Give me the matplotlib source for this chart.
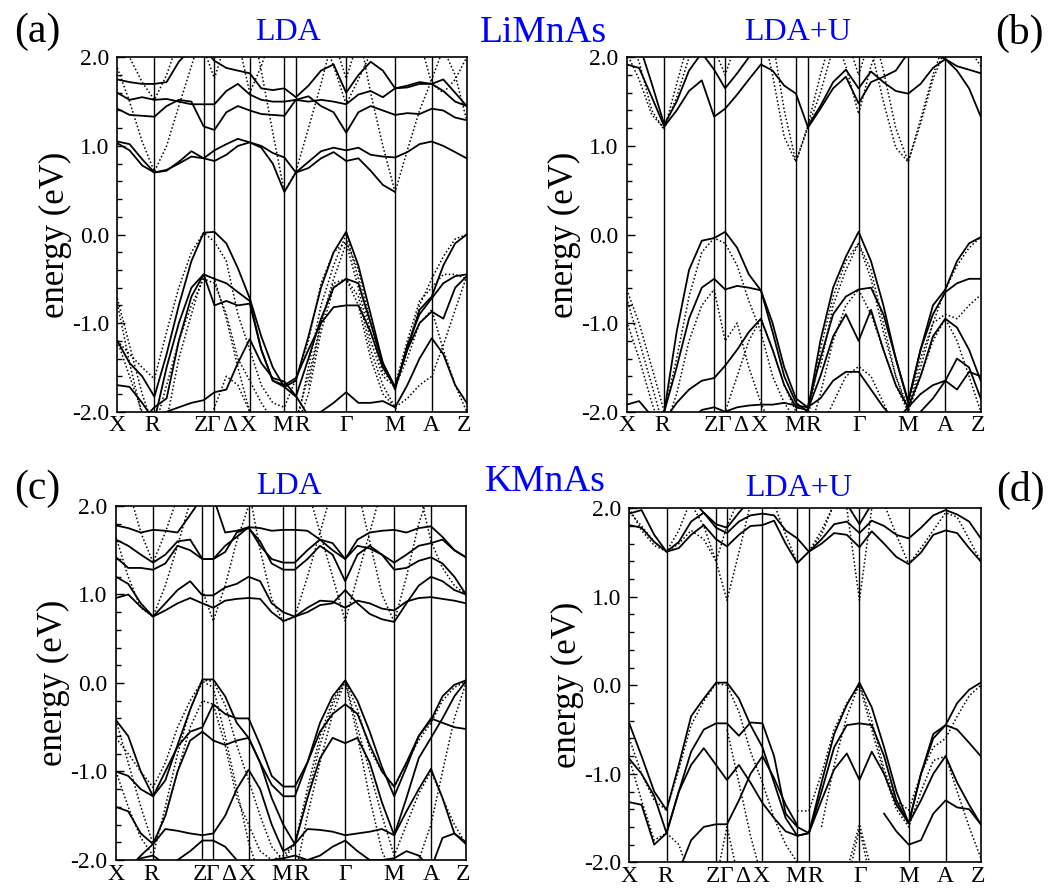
import numpy as np
import matplotlib
matplotlib.use("Agg")
import matplotlib.pyplot as plt

plt.rcParams['font.family'] = ['Liberation Serif', 'DejaVu Serif']

# k-path node positions (fraction of path) and labels
K = [0.000, 0.035, 0.071, 0.106, 0.141, 0.176, 0.212, 0.247, 0.278, 0.312,
     0.345, 0.379, 0.412, 0.445, 0.478, 0.511, 0.547, 0.583, 0.619, 0.655,
     0.690, 0.725, 0.760, 0.795, 0.830, 0.865, 0.900, 0.933, 0.967, 1.000]
SYM_K = [0.0, 0.106, 0.247, 0.278, 0.379, 0.478, 0.511, 0.655, 0.795, 0.900, 1.0]
LABEL_K = [0.0, 0.101, 0.239, 0.275, 0.323, 0.375, 0.475, 0.528, 0.656, 0.795, 0.9, 0.992]
LABELS = ['X', 'R', 'Z', 'Γ', 'Δ', 'X', 'M', 'R', 'Γ', 'M', 'A', 'Z']
N = None
# node order: X xr xr R | rz rz rz Z | G gx gx X | xm xm M R | rg rg rg G | gm gm gm M | ma ma A | az az Z

# ---------------- (a) LiMnAs, LDA ----------------
A_S1 = [1.05, 1.02, 0.85, 0.70, 0.72, 0.82, 0.94, 0.86, 0.83, 0.90, 1.00, 1.04, 0.98, 0.80, 0.48, 0.70, 0.75, 0.86, 0.93, 0.83, 0.86, 0.72, 0.56, 0.48, N, N, N, N, N, N]
A_S2 = [1.03, 0.95, 0.78, 0.70, 0.73, 0.80, 0.88, 0.86, 0.95, 1.02, 1.08, 1.04, 1.00, 0.92, 0.87, 0.70, 0.82, 0.94, 0.98, 0.95, 0.98, 0.90, 0.88, 0.87, 0.93, 1.02, 1.05, 1.00, 0.93, 0.86]
A_S3 = [1.42, 1.35, 1.34, 1.33, 1.45, 1.52, 1.50, 1.22, 1.18, 1.38, 1.45, 1.40, 1.36, 1.35, 1.34, 1.52, 1.56, 1.45, 1.38, 1.15, 1.38, 1.45, 1.40, 1.35, 1.37, 1.36, 1.42, 1.40, 1.32, 1.29]
A_S4 = [1.60, 1.52, 1.55, 1.52, 1.53, 1.50, 1.47, 1.47, 1.47, 1.62, 1.70, 1.58, 1.52, 1.50, 1.50, 1.52, 1.50, 1.52, 1.50, 1.47, 1.58, 1.62, 1.55, 1.65, 1.66, 1.70, 1.70, 1.62, 1.50, 1.45]
A_S5 = [1.75, 1.72, 1.70, 1.70, 1.72, 1.95, 2.10, 2.10, 1.96, 1.88, 1.85, 1.82, 1.65, 1.63, 1.65, 1.55, 1.68, 1.85, 1.92, 1.60, 1.80, 1.95, 1.85, 1.65, 1.68, 1.72, 1.70, 1.75, 1.60, 1.45]
A_V1 = [-1.20, -1.45, -1.60, -1.83, -1.35, -0.80, -0.30, 0.02, 0.03, -0.10, -0.38, -0.72, -1.15, -1.50, -1.72, -1.65, -1.15, -0.60, -0.20, 0.03, -0.35, -0.90, -1.45, -1.72, -1.30, -0.85, -0.70, -0.35, -0.10, 0.00]
A_V2 = [-1.70, -1.72, -1.90, -2.10, -1.50, -1.00, -0.60, -0.45, -0.50, -0.55, -0.65, -0.75, -1.30, -1.65, -1.72, -1.83, -1.40, -0.95, -0.60, -0.50, -0.55, -1.00, -1.45, -1.75, -1.25, -0.90, -0.72, -0.55, -0.47, -0.45]
A_V3 = [N, N, -2.10, -1.95, -1.85, -1.20, -0.70, -0.45, -0.80, -0.75, -0.80, -0.78, -1.30, -1.65, -1.70, -1.62, -1.30, -1.00, -0.82, -0.80, -0.80, -1.10, -1.50, -1.72, -1.30, -1.00, -0.87, -0.95, -0.60, -0.47]
A_V4 = [-2.20, -2.15, -2.10, -2.05, -2.00, -1.95, -1.90, -1.87, -1.78, -1.75, -1.45, -1.18, -1.45, -1.62, -1.66, -1.82, -2.05, -2.00, -1.90, -1.78, -1.90, -1.90, -1.88, -1.95, -1.70, -1.40, -1.17, -1.35, -1.70, -1.90]
A_D1 = [1.88, 1.50, 1.05, 0.71, 1.00, 1.45, 1.90, 2.35, N, N, N, 2.50, 1.85, 1.15, 0.48, 0.71, 1.20, 1.70, 2.25, N, 2.30, 1.60, 1.00, 0.48, 0.95, 1.40, 1.75, 2.10, 1.80, 1.29]
A_D2 = [N, N, N, N, N, N, 2.40, 2.10, 1.76, 2.20, N, N, N, N, N, N, N, N, 2.20, 1.76, 2.20, N, N, N, N, N, N, N, N, N]
A_D3 = [2.30, 2.00, 1.72, 1.52, 1.80, 2.20, N, N, N, N, 2.20, 1.60, 1.90, 2.30, N, N, N, 2.30, 1.90, 1.47, 1.75, 2.05, N, N, N, 2.20, 1.70, 1.60, 1.75, 2.00]
A_W1 = [-1.20, -1.35, -1.50, -1.63, -1.10, -0.60, -0.20, 0.02, -0.08, -0.30, -0.90, -1.30, -1.70, -1.90, -1.95, -1.63, -1.20, -0.55, -0.20, -0.08, -0.40, -1.00, -1.50, -1.72, -1.30, -0.80, -0.50, -0.25, -0.05, 0.00]
A_W2 = [-0.72, -1.25, -1.80, -2.20, -1.70, -1.20, -0.80, -0.50, -0.55, -0.90, -1.40, -1.65, -1.90, -2.10, -2.20, -2.20, -1.50, -0.80, -0.35, 0.00, -0.50, -1.10, -1.55, -1.70, -1.20, -0.75, -0.60, -0.45, -0.45, -0.50]
A_W3 = [-1.20, -1.60, -2.00, -2.30, -2.10, -1.40, -0.90, -0.45, -0.50, -0.95, -1.50, -2.00, -2.20, -2.30, N, N, -1.70, -1.00, -0.50, -0.10, -0.60, -1.20, -1.60, -1.72, -1.40, -1.00, -0.85, -1.30, -1.70, -2.00]
A_W4 = [-0.78, -1.45, -2.05, -2.30, N, N, N, -2.30, -1.95, -1.60, -1.70, -2.00, -2.20, N, N, -2.20, -1.80, -1.10, -0.60, -0.50, -0.70, -1.30, -1.70, -1.95, -1.85, -1.70, -1.60, -1.25, -0.85, -0.47]
A_W5 = [N, N, N, N, N, N, N, N, N, N, N, N, N, N, -2.30, -2.10, -1.60, -1.00, -0.55, -0.50, -0.80, -1.40, -1.80, -1.95, -2.20, N, N, N, N, N]

# ---------------- (b) LiMnAs, LDA+U ----------------
B_S1 = [1.92, 1.88, 1.55, 1.22, 1.40, 1.62, 1.74, 1.33, 1.42, 1.58, 1.75, 1.92, 1.85, 1.68, 1.59, 1.22, 1.45, 1.72, 1.86, 1.65, 1.84, 1.72, 1.62, 1.59, 1.70, 1.88, 1.98, 1.85, 1.65, 1.33]
B_S2 = [2.30, 2.15, 1.70, 1.24, 1.50, 1.85, 2.05, 1.86, 1.65, 1.82, 2.00, 2.20, N, N, N, 1.20, 1.42, 1.65, 1.78, 1.48, 1.72, 1.78, 1.85, 2.05, 2.10, 2.05, 1.98, 1.90, 1.86, 1.82]
B_V1 = [N, N, N, -2.00, -1.10, -0.40, -0.07, -0.04, 0.03, -0.15, -0.45, -0.63, -1.10, -1.60, -1.90, -2.00, -1.20, -0.60, -0.25, 0.03, -0.30, -0.80, -1.40, -1.88, -1.30, -0.80, -0.62, -0.30, -0.10, -0.03]
B_V2 = [N, -2.20, -2.10, -2.00, -1.50, -0.95, -0.60, -0.50, -0.62, -0.58, -0.60, -0.63, -1.00, -1.50, -1.85, -1.95, -1.40, -0.90, -0.70, -0.62, -0.60, -0.90, -1.40, -1.90, -1.30, -0.90, -0.65, -0.55, -0.50, -0.50]
B_V3 = [N, N, N, -2.10, -1.90, -1.75, -1.65, -1.62, -1.48, -1.30, -1.10, -0.95, -1.30, -1.70, -1.95, -1.98, -1.60, -1.15, -0.90, -1.20, -0.85, -1.30, -1.70, -1.95, -1.80, -1.70, -1.65, -1.75, -1.55, -1.60]
B_V4 = [-1.92, -1.88, -2.05, N, N, -2.10, -1.98, -1.95, -2.00, -1.95, -1.93, -1.92, -1.92, -1.90, -1.93, -1.95, -1.85, -1.65, -1.55, -1.55, -1.75, -1.95, -2.10, N, -2.00, -1.85, -1.65, -1.40, -1.50, -1.85]
B_V5 = [N, N, N, N, N, N, N, N, N, N, N, N, N, N, N, N, N, N, N, N, N, N, -2.10, -1.95, -1.60, -1.15, -0.95, -1.05, -1.30, -1.65]
B_D1 = [2.05, 1.75, 1.35, 1.20, 1.55, 2.00, 2.30, N, N, N, N, 2.40, 1.80, 1.10, 0.82, 1.20, 1.60, 2.10, 2.30, N, 2.40, 1.85, 1.20, 0.82, 1.30, 1.80, 2.20, N, N, N]
B_D2 = [2.30, 1.95, 1.40, 1.18, 1.70, 2.20, N, N, N, N, N, N, 2.20, 1.40, 0.82, 1.22, 1.80, 2.30, N, N, 2.10, 1.50, 0.98, 0.82, 1.25, 1.75, 2.10, 2.20, 2.10, 1.90]
B_D3 = [N, N, N, N, N, N, 2.30, 2.10, 1.80, 2.20, N, N, N, N, N, N, N, 2.30, 1.90, 1.36, 1.90, 2.30, N, N, N, N, N, N, N, N]
B_D4 = [N, N, N, N, N, N, N, N, N, N, N, N, N, N, N, N, N, N, 2.25, 1.80, 2.25, N, N, N, N, N, N, N, N, N]
B_W1 = [-0.62, -1.00, -1.50, -2.00, -1.40, -0.70, -0.20, -0.04, -0.10, -0.35, -0.75, -1.10, -1.60, -1.90, -2.10, -2.10, -1.30, -0.70, -0.30, -0.10, -0.40, -1.00, -1.60, -2.00, -1.50, -1.00, -0.62, -0.35, -0.15, -0.03]
B_W2 = [-0.72, -1.20, -1.70, -2.20, -1.80, -1.20, -0.80, -0.62, -1.20, -1.00, -1.50, -1.90, -2.20, N, N, N, -1.50, -0.80, -0.40, -0.10, -0.50, -1.10, -1.60, -1.95, -1.40, -1.00, -0.90, -0.95, -0.80, -0.68]
B_W3 = [-0.98, -1.40, -1.90, -2.30, N, N, N, -2.30, -2.00, -1.60, -1.20, -0.95, -1.30, -1.70, -2.00, -2.30, -1.80, -1.20, -0.80, -0.62, -0.90, -1.30, -1.70, -2.00, -1.60, -1.20, -0.95, -1.20, -1.60, -2.00]
B_W4 = [N, N, N, N, N, N, N, N, N, N, N, N, N, N, N, -2.30, -2.20, -1.90, -1.60, -1.49, -1.60, -1.90, -2.20, N, N, N, N, N, N, N]

# ---------------- (c) KMnAs, LDA ----------------
C_S1 = [0.96, 1.00, 0.86, 0.75, 0.82, 0.90, 0.96, 0.90, 0.85, 0.93, 0.95, 0.96, 0.95, 0.80, 0.70, 0.75, 0.85, 0.93, 0.92, 0.85, 0.93, 0.90, 0.84, 0.82, 0.92, 0.96, 0.97, 0.95, 0.93, 0.90]
C_S2 = [1.20, 1.12, 0.90, 0.75, 0.90, 1.05, 1.15, 0.99, 0.99, 1.08, 1.12, 1.20, 1.15, 0.90, 0.80, 0.75, 0.80, 0.88, 0.90, 1.05, 0.90, 0.78, 0.72, 0.69, 0.90, 1.10, 1.20, 1.15, 1.05, 1.00]
C_S3 = [1.42, 1.30, 1.30, 1.28, 1.35, 1.55, 1.50, 1.40, 1.40, 1.48, 1.70, 1.75, 1.60, 1.35, 1.28, 1.28, 1.40, 1.55, 1.45, 1.15, 1.45, 1.55, 1.45, 1.28, 1.30, 1.38, 1.42, 1.35, 1.20, 1.00]
C_S4 = [1.62, 1.55, 1.45, 1.36, 1.45, 1.60, 1.62, 1.40, 1.40, 1.55, 1.65, 1.76, 1.55, 1.40, 1.36, 1.36, 1.50, 1.62, 1.50, 1.40, 1.55, 1.52, 1.45, 1.36, 1.45, 1.55, 1.58, 1.62, 1.50, 1.42]
C_S5 = [1.78, 1.75, 1.70, 1.73, 1.72, 1.70, 1.90, 2.10, 2.10, 1.70, 1.72, 1.76, 1.75, 1.72, 1.73, 1.73, 1.72, 1.62, 1.58, 1.40, 1.62, 1.70, 1.72, 1.73, 1.70, 1.75, 1.77, 1.65, 1.50, 1.42]
C_V1 = [-0.42, -0.60, -1.00, -1.28, -1.10, -0.70, -0.30, 0.04, 0.04, -0.15, -0.45, -0.62, -0.90, -1.15, -1.28, -1.28, -0.90, -0.45, -0.15, 0.03, -0.20, -0.55, -0.95, -1.28, -0.95, -0.60, -0.42, -0.15, -0.02, 0.03]
C_V2 = [-1.00, -1.05, -1.20, -1.28, -1.00, -0.72, -0.55, -0.50, -0.24, -0.35, -0.40, -0.40, -0.70, -1.05, -1.17, -1.17, -0.90, -0.55, -0.35, -0.24, -0.35, -0.70, -1.00, -1.17, -0.90, -0.60, -0.40, -0.45, -0.50, -0.52]
C_V3 = [-1.40, -1.45, -1.70, -1.82, -1.65, -1.67, -1.70, -1.72, -1.70, -1.50, -1.20, -0.98, -1.20, -1.60, -1.90, -1.82, -1.65, -1.66, -1.68, -1.72, -1.70, -1.68, -1.65, -1.72, -1.45, -1.20, -0.97, -1.30, -1.70, -1.80]
C_V4 = [N, -2.10, -1.95, -1.82, -1.50, -1.00, -0.65, -0.55, -0.65, -0.70, -0.65, -0.62, -0.90, -1.30, -1.60, -1.82, -1.30, -0.85, -0.62, -0.68, -0.62, -0.90, -1.35, -1.72, -1.30, -0.85, -0.62, -0.40, -0.15, 0.02]
C_V5 = [N, -2.10, -1.98, -1.95, -2.05, -2.00, -1.90, -1.78, -1.78, -1.85, -2.00, -2.20, -2.10, -2.00, -1.98, -1.95, -2.00, -1.95, -1.85, -1.78, -1.90, -2.00, -2.00, -1.98, -1.90, -1.95, -2.10, -1.75, -1.70, -1.82]
C_D1 = [1.65, 1.20, 0.85, 0.75, 1.10, 1.55, 2.05, N, N, N, N, 2.20, 1.50, 0.95, 0.69, 0.75, 1.20, 1.70, 2.20, N, 2.20, 1.60, 1.00, 0.69, 1.20, 1.80, 2.20, N, N, N]
C_D2 = [N, 2.20, 1.70, 1.36, 1.70, 2.10, N, 1.05, 0.70, 1.10, 1.60, 2.00, 2.30, N, N, N, 2.20, 1.70, 1.20, 0.70, 1.20, 1.70, 2.20, N, N, 2.20, 1.60, 1.30, 1.10, 1.00]
C_W1 = [-0.62, -0.80, -1.00, -1.18, -0.90, -0.50, -0.20, 0.03, 0.02, -0.25, -0.70, -1.10, -1.50, -1.85, -2.00, -1.82, -1.20, -0.60, -0.20, 0.03, -0.30, -0.75, -1.00, -1.18, -0.90, -0.65, -0.45, -0.20, -0.05, 0.02]
C_W2 = [-0.42, -0.90, -1.40, -1.82, -1.50, -1.00, -0.50, -0.20, -0.24, -0.70, -1.30, -1.60, -1.90, -2.00, -1.95, -1.82, -1.30, -0.70, -0.25, 0.03, -0.50, -1.00, -1.50, -1.95, -1.60, -1.25, -1.00, -1.30, -1.60, -1.82]
C_W3 = [-1.00, -1.40, -1.75, -1.95, -1.40, -0.80, -0.30, 0.02, -0.05, -0.60, -1.20, -1.80, -2.20, N, N, -2.20, -1.50, -0.90, -0.35, 0.02, -0.60, -1.30, -1.90, -2.20, N, -2.00, -1.60, -1.00, -0.40, 0.00]

# ---------------- (d) KMnAs, LDA+U ----------------
D_S1 = [1.81, 1.78, 1.62, 1.51, 1.55, 1.70, 1.81, 1.65, 1.57, 1.70, 1.80, 1.81, 1.86, 1.60, 1.38, 1.51, 1.60, 1.72, 1.70, 1.56, 1.74, 1.60, 1.45, 1.37, 1.50, 1.70, 1.75, 1.72, 1.55, 1.40]
D_S2 = [1.94, 1.98, 1.70, 1.51, 1.62, 1.85, 1.95, 1.78, 1.72, 1.85, 1.92, 1.94, 1.92, 1.75, 1.66, 1.51, 1.65, 1.82, 1.85, 1.72, 1.86, 1.80, 1.70, 1.66, 1.78, 1.92, 1.98, 1.93, 1.85, 1.66]
D_S3 = [N, N, N, N, N, 2.10, 1.95, 1.82, 1.78, 1.95, 2.10, N, N, N, N, N, N, N, 2.05, 1.82, 2.05, N, N, N, N, N, N, N, N, N]
D_V1 = [-0.43, -0.80, -1.20, -1.41, -0.90, -0.35, -0.15, 0.03, 0.03, -0.15, -0.45, -0.70, -1.10, -1.50, -1.70, -1.67, -1.10, -0.55, -0.22, 0.03, -0.25, -0.70, -1.20, -1.56, -1.00, -0.55, -0.45, -0.20, -0.05, 0.03]
D_V2 = [-0.83, -1.00, -1.25, -1.67, -1.20, -0.90, -0.71, -0.90, -1.07, -0.90, -1.10, -1.33, -1.50, -1.65, -1.70, -1.67, -1.30, -0.95, -0.77, -1.07, -0.75, -1.00, -1.35, -1.56, -1.30, -1.00, -0.80, -1.10, -1.35, -1.57]
D_V3 = [-1.32, -1.35, -1.80, -1.67, -1.20, -0.75, -0.50, -0.43, -0.43, -0.57, -0.42, -0.43, -0.80, -1.45, -1.60, -1.67, -1.20, -0.70, -0.45, -0.43, -0.45, -0.80, -1.30, -1.56, -1.00, -0.60, -0.45, -0.50, -0.65, -0.80]
D_V4 = [N, N, N, N, -2.10, -1.75, -1.60, -1.57, -1.57, -1.30, -1.00, -0.80, -1.05, -1.35, -1.58, N, N, N, N, N, N, -1.45, -1.65, -1.80, -1.75, -1.45, -1.30, -1.38, -1.40, -1.57]
D_D1 = [2.00, 1.75, 1.58, 1.51, 1.75, 2.10, N, N, N, N, N, N, N, N, N, 1.51, 1.70, 2.05, N, N, N, N, N, N, N, N, N, N, N, N]
D_D2 = [N, N, N, N, N, 2.05, 1.80, 1.40, 0.96, 1.50, 2.05, N, N, N, N, N, N, N, 2.00, 0.96, 2.00, N, N, N, N, N, N, N, N, N]
D_D3 = [1.96, 1.80, 1.62, 1.51, 1.60, 1.75, 1.65, 1.40, 1.80, 2.10, N, N, 2.05, 1.70, 1.38, 1.51, 1.75, 2.05, N, N, N, 2.05, 1.70, 1.37, 1.55, 1.75, 1.95, 1.90, 1.65, 1.40]
D_W1 = [-0.60, -1.00, -1.30, -1.41, -0.95, -0.45, -0.18, 0.02, 0.00, -0.30, -0.75, -1.10, -1.50, -1.80, -2.00, N, -1.60, -0.90, -0.35, 0.02, -0.40, -0.95, -1.30, -1.41, -1.00, -0.70, -0.60, -0.35, -0.12, 0.00]
D_W2 = [-0.83, -1.30, -1.75, -1.67, -1.80, -2.20, N, N, -0.50, -1.10, -1.70, -2.20, N, N, -1.42, -1.42, -1.00, -0.50, -0.20, 0.00, -0.50, -1.00, -1.40, -1.60, -1.20, -0.85, -0.80, -1.20, -1.60, -1.95]
D_W3 = [N, N, N, N, N, N, N, N, N, N, N, N, N, N, N, N, N, N, -2.10, -1.57, -2.10, N, N, N, N, N, N, N, N, N]
D_W4 = [N, N, N, N, N, N, N, -2.20, -1.60, -2.20, N, N, N, N, N, N, N, N, -2.25, -1.62, -2.25, N, N, N, N, N, N, N, N, N]

PANEL_SOLID = [
    [A_S1, A_S2, A_S3, A_S4, A_S5, A_V1, A_V2, A_V3, A_V4],
    [B_S1, B_S2, B_V1, B_V2, B_V3, B_V4, B_V5],
    [C_S1, C_S2, C_S3, C_S4, C_S5, C_V1, C_V2, C_V3, C_V4, C_V5],
    [D_S1, D_S2, D_S3, D_V1, D_V2, D_V3, D_V4],
]
PANEL_DOTTED = [
    [A_D1, A_D2, A_D3, A_W1, A_W2, A_W3, A_W4, A_W5],
    [B_D1, B_D2, B_D3, B_D4, B_W1, B_W2, B_W3, B_W4],
    [C_D1, C_D2, C_W1, C_W2, C_W3],
    [D_D1, D_D2, D_D3, D_W1, D_W2, D_W3, D_W4],
]
PANEL_RECTS = [
    [0.1108, 0.5374, 0.3299, 0.3982],
    [0.5918, 0.5374, 0.3343, 0.3982],
    [0.1095, 0.0337, 0.3305, 0.3978],
    [0.5942, 0.0311, 0.3319, 0.3978],
]

fig = plt.figure(figsize=(10.59, 8.90), dpi=100)

for rect, solids, dots in zip(PANEL_RECTS, PANEL_SOLID, PANEL_DOTTED):
    ax = fig.add_axes(rect)
    ax.set_xlim(0, 1)
    ax.set_ylim(-2, 2)
    for xv in SYM_K[1:-1]:
        ax.axvline(xv, color='black', lw=1.0, zorder=1)
    for b in solids:
        ax.plot(K, np.array(b, dtype=float), color='black', lw=1.3,
                solid_joinstyle='round', zorder=3)
    for b in dots:
        ax.plot(K, np.array(b, dtype=float), color='black', lw=1.1,
                linestyle=(0, (1.0, 1.5)), zorder=2)
    ax.set_yticks([-2, -1, 0, 1, 2])
    ax.set_yticklabels(['-2.0', '-1.0', '0.0', '1.0', '2.0'])
    ax.set_yticks(np.arange(-2, 2.01, 0.2), minor=True)
    ax.tick_params(axis='y', which='major', direction='in', length=6, width=1.0,
                   labelsize=17, pad=6)
    ax.tick_params(axis='y', which='minor', direction='in', length=3.5, width=1.0)
    ax.set_xticks([])
    for xl, lab in zip(LABEL_K, LABELS):
        ax.text(xl, -0.010, lab, transform=ax.transAxes, ha='center', va='top',
                fontsize=17)
    ax.set_ylabel('energy (eV)', fontsize=25, labelpad=0)
    for sp in ax.spines.values():
        sp.set_linewidth(1.2)

BLUE = '#0000ff'
fig.text(37 / 1059, 1 - 32 / 890, '(a)', fontsize=30, ha='center', va='center')
fig.text(288 / 1059, 1 - 33 / 890, 'LDA', fontsize=23, color=BLUE, ha='center', va='center')
fig.text(543 / 1059, 1 - 33 / 890, 'LiMnAs', fontsize=27, color=BLUE, ha='center', va='center')
fig.text(798 / 1059, 1 - 33 / 890, 'LDA+U', fontsize=23, color=BLUE, ha='center', va='center')
fig.text(1019 / 1059, 1 - 33 / 890, '(b)', fontsize=30, ha='center', va='center')
fig.text(37 / 1059, 1 - 489 / 890, '(c)', fontsize=30, ha='center', va='center')
fig.text(289 / 1059, 1 - 486 / 890, 'LDA', fontsize=23, color=BLUE, ha='center', va='center')
fig.text(545 / 1059, 1 - 482 / 890, 'KMnAs', fontsize=27, color=BLUE, ha='center', va='center')
fig.text(799 / 1059, 1 - 488 / 890, 'LDA+U', fontsize=23, color=BLUE, ha='center', va='center')
fig.text(1020 / 1059, 1 - 490 / 890, '(d)', fontsize=30, ha='center', va='center')

fig.savefig('out.png', dpi=100)
